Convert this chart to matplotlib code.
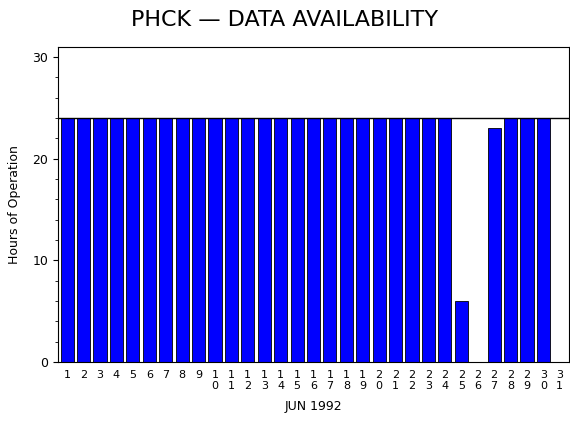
import matplotlib
matplotlib.use("Agg")
import matplotlib.pyplot as plt
from matplotlib.ticker import MultipleLocator

days = list(range(1, 32))
hours = [24]*24 + [6, 0, 23, 24, 24, 24, 0]
tick_labels = ["\n".join(str(d)) for d in days]

fig = plt.figure(figsize=(5.7, 4.3), dpi=100)
ax = fig.add_axes([0.102, 0.158, 0.896, 0.733])
ax.bar(days, hours, width=0.8, color="#0000ff", edgecolor="black", linewidth=0.6)
ax.axhline(24, color="black", linewidth=1)
ax.set_xlim(0.45, 31.55)
ax.set_ylim(0, 31)
ax.set_xticks(days)
ax.set_xticklabels(tick_labels, fontsize=8, linespacing=1.1)
ax.tick_params(axis="x", length=0, pad=6)
ax.set_yticks([0, 10, 20, 30])
ax.yaxis.set_minor_locator(MultipleLocator(2))
ax.tick_params(axis="y", labelsize=9)
ax.set_ylabel("Hours of Operation", fontsize=9, labelpad=8)
ax.set_xlabel("JUN 1992", fontsize=9, labelpad=6)
fig.text(0.5, 0.953, "PHCK \u2014 DATA AVAILABILITY", ha="center", va="center", fontsize=16)
fig.savefig("out.png", dpi=100)
